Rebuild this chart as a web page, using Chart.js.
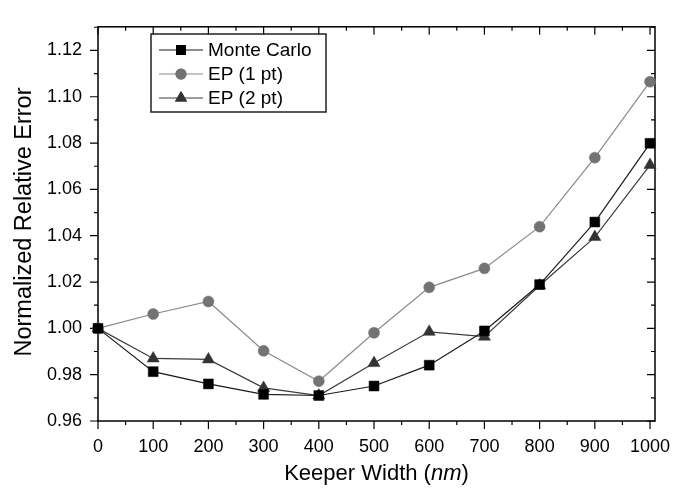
<!DOCTYPE html>
<html>
<head>
<meta charset="utf-8">
<script src="https://cdn.jsdelivr.net/npm/chart.js@4"></script>
<style>
  body { margin: 0; background: #fff; }
  #wrap { width: 686px; height: 489px; }
</style>
</head>
<body>
<div id="wrap"><canvas id="errChart" width="686" height="489"></canvas></div>
<script>
// keeper widths (nm) and the three curves
const widths = [0, 100, 200, 300, 400, 500, 600, 700, 800, 900, 1000];
const monteCarlo = [1.000, 0.9813, 0.9760, 0.9715, 0.9710, 0.9751, 0.9841, 0.9989, 1.0189, 1.0459, 1.0799];
const ep1pt = [1.000, 1.0062, 1.0116, 0.9903, 0.9772, 0.9981, 1.0177, 1.0259, 1.0439, 1.0737, 1.1065];
const ep2pt = [1.000, 0.9870, 0.9866, 0.9743, 0.9710, 0.9850, 0.9985, 0.9964, 1.0185, 1.0394, 1.0705];

const xTicks = [0, 100, 200, 300, 400, 500, 600, 700, 800, 900, 1000];
const yTicks = [0.96, 0.98, 1.00, 1.02, 1.04, 1.06, 1.08, 1.10, 1.12];

const FONT = '"Liberation Sans", Arial, Helvetica, sans-serif';

const series = [
    { label: 'Monte Carlo', data: monteCarlo, line: '#1a1a1a', mark: '#000000', style: 'rect', r: 7 },
    { label: 'EP (1 pt)', data: ep1pt, line: '#8a8a8a', mark: '#737373', style: 'circle', r: 5.5 },
    { label: 'EP (2 pt)', data: ep2pt, line: '#3c3c3c', mark: '#333333', style: 'triangle', r: 7 }
];

function toPoints(vals) {
    return widths.map((w, i) => ({ x: w, y: vals[i] }));
}

// frame + major/minor ticks (left/bottom outward, top/right inward)
const framePlugin = {
    id: 'frame',
    beforeDatasetsDraw(chart) {
        const { ctx, chartArea: a, scales } = chart;
        const xs = scales.x, ys = scales.y;
        ctx.save();
        ctx.strokeStyle = '#000';
        ctx.lineWidth = 1.5;
        ctx.strokeRect(a.left, a.top, a.right - a.left, a.bottom - a.top);
        ctx.lineWidth = 1.2;
        ctx.beginPath();
        for (let v = 0; v <= 1000; v += 50) {
            const px = xs.getPixelForValue(v);
            const len = v % 100 === 0 ? 8 : 4;
            ctx.moveTo(px, a.bottom); ctx.lineTo(px, a.bottom + len);
            ctx.moveTo(px, a.top); ctx.lineTo(px, a.top + len);
        }
        for (let k = 96; k <= 113; k++) {
            const py = ys.getPixelForValue(k / 100);
            const len = k % 2 === 0 ? 8 : 4;
            ctx.moveTo(a.left, py); ctx.lineTo(a.left - len, py);
            ctx.moveTo(a.right, py); ctx.lineTo(a.right - len, py);
        }
        ctx.stroke();
        ctx.restore();
    },
    afterDraw(chart) {
        const { ctx, chartArea: a } = chart;
        ctx.save();
        // axis titles
        ctx.fillStyle = '#000';
        ctx.textBaseline = 'alphabetic';
        const p1 = 'Keeper Width (', p2 = 'nm', p3 = ')';
        ctx.font = '22px ' + FONT;
        const w1 = ctx.measureText(p1).width, w3 = ctx.measureText(p3).width;
        ctx.font = 'italic 22px ' + FONT;
        const w2 = ctx.measureText(p2).width;
        let x = (a.left + a.right) / 2 - (w1 + w2 + w3) / 2;
        const by = 480;
        ctx.font = '22px ' + FONT;
        ctx.textAlign = 'left';
        ctx.fillText(p1, x, by);
        ctx.font = 'italic 22px ' + FONT;
        ctx.fillText(p2, x + w1, by);
        ctx.font = '22px ' + FONT;
        ctx.fillText(p3, x + w1 + w2, by);

        ctx.save();
        ctx.translate(25, 222);
        ctx.rotate(-Math.PI / 2);
        ctx.textAlign = 'center';
        ctx.textBaseline = 'middle';
        ctx.font = '23.5px ' + FONT;
        ctx.fillText('Normalized Relative Error', 0, 0);
        ctx.restore();

        // legend box
        ctx.strokeStyle = '#222';
        ctx.lineWidth = 1.5;
        ctx.strokeRect(151, 34, 175, 78);
        const rows = [50, 74, 98];
        series.forEach((s, i) => {
            const y = rows[i];
            ctx.strokeStyle = s.line;
            ctx.lineWidth = 1.2;
            ctx.beginPath();
            ctx.moveTo(159, y); ctx.lineTo(203, y);
            ctx.stroke();
            ctx.fillStyle = s.mark;
            Chart.helpers.drawPoint(ctx, { pointStyle: s.style, radius: s.r, rotation: 0, borderWidth: 0 }, 181, y);
            ctx.fill();
            ctx.fillStyle = '#000';
            ctx.font = '19px ' + FONT;
            ctx.textAlign = 'left';
            ctx.textBaseline = 'middle';
            ctx.fillText(s.label, 208, y + 1);
        });
        ctx.restore();
    }
};

const ctx1 = document.getElementById('errChart').getContext('2d');
const errChart = new Chart(ctx1, {
    type: 'line',
    data: {
        datasets: series.map(s => ({
            label: s.label,
            data: toPoints(s.data),
            borderColor: s.line,
            borderWidth: 1.2,
            backgroundColor: s.mark,
            pointBackgroundColor: s.mark,
            pointBorderColor: s.mark,
            pointBorderWidth: 0.5,
            pointStyle: s.style,
            pointRadius: s.r,
            pointHoverRadius: s.r,
            tension: 0,
            fill: false,
            clip: false
        }))
    },
    options: {
        responsive: false,
        animation: false,
        events: [],
        layout: { padding: { top: 5, right: 31, left: 0, bottom: 0 } },
        plugins: {
            legend: { display: false },
            tooltip: { enabled: false }
        },
        scales: {
            x: {
                type: 'linear',
                min: 0,
                max: 1009,
                afterBuildTicks: scale => { scale.ticks = xTicks.map(v => ({ value: v })); },
                afterFit: scale => { scale.height = 68; },
                grid: { display: false, drawTicks: false },
                border: { display: false },
                ticks: {
                    color: '#000',
                    font: { family: FONT, size: 18 },
                    padding: 15,
                    maxRotation: 0,
                    callback: v => String(v)
                }
            },
            y: {
                type: 'linear',
                min: 0.96,
                max: 1.1302,
                afterBuildTicks: scale => { scale.ticks = yTicks.map(v => ({ value: v })); },
                afterFit: scale => { scale.width = 98; },
                grid: { display: false, drawTicks: false },
                border: { display: false },
                ticks: {
                    color: '#000',
                    font: { family: FONT, size: 18 },
                    padding: 16,
                    callback: v => v.toFixed(2)
                }
            }
        }
    },
    plugins: [framePlugin]
});
</script>
</body>
</html>
